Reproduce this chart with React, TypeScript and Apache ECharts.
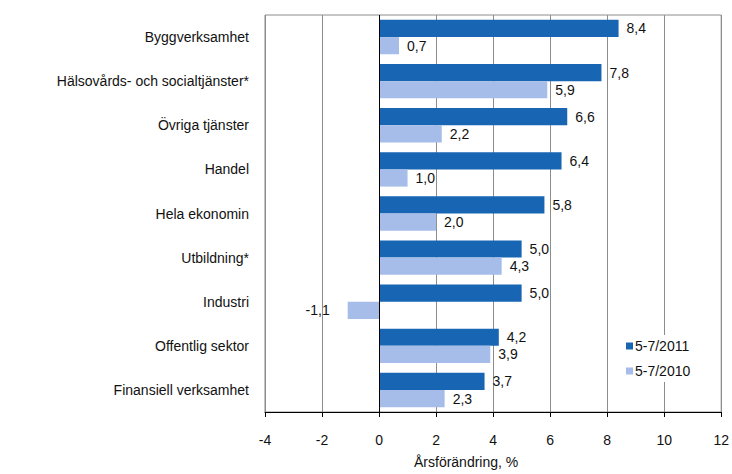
import React, { useEffect, useRef } from "react";
import * as echarts from "echarts";

const categories = [
  "Byggverksamhet",
  "Hälsovårds- och socialtjänster*",
  "Övriga tjänster",
  "Handel",
  "Hela ekonomin",
  "Utbildning*",
  "Industri",
  "Offentlig sektor",
  "Finansiell verksamhet",
];
const series2011 = [8.4, 7.8, 6.6, 6.4, 5.8, 5.0, 5.0, 4.2, 3.7];
const series2010 = [0.7, 5.9, 2.2, 1.0, 2.0, 4.3, -1.1, 3.9, 2.3];
const seriesNames = ["5-7/2011", "5-7/2010"];
const xTicks = { min: -4, max: 12, interval: 2 };
const axisTitle = "Årsförändring, %";

const FONT = "'Liberation Sans', Arial, sans-serif";

const fmt = (v: number) => v.toFixed(1).replace(".", ",");

const toData = (arr: number[]) =>
  arr.map((v) => ({
    value: v,
    label: v < 0 ? { position: "left", distance: 18 } : { position: "right" },
  }));

export default function App() {
  const ref = useRef<HTMLDivElement>(null);
  useEffect(() => {
    if (!ref.current) return;
    const chart = echarts.init(ref.current, null, { renderer: "svg" });
    const labelCommon = {
      show: true,
      distance: 8,
      color: "#111",
      fontSize: 14,
      fontFamily: FONT,
      formatter: (p: any) => fmt(p.value),
    };
    chart.setOption({
      animation: false,
      textStyle: { fontFamily: FONT },
      grid: {
        left: 265,
        right: 9,
        top: 15,
        bottom: 62,
        show: true,
        borderColor: "#8c8c8c",
        borderWidth: 1,
      },
      legend: {
        orient: "vertical",
        left: 622,
        top: 335,
        itemWidth: 7,
        itemHeight: 7,
        itemGap: 11,
        backgroundColor: "#fff",
        padding: [4, 4, 4, 4],
        icon: "rect",
        textStyle: { fontSize: 14, color: "#111", fontFamily: FONT, padding: [0, 0, 0, -3] },
        data: seriesNames,
      },
      xAxis: {
        type: "value",
        min: xTicks.min,
        max: xTicks.max,
        interval: xTicks.interval,
        axisLine: { show: true, onZero: false, lineStyle: { color: "#000", width: 1 } },
        axisTick: { show: true, length: 5, lineStyle: { color: "#000" } },
        axisLabel: {
          color: "#111",
          fontSize: 14,
          margin: 21,
          fontFamily: FONT,
        },
        splitLine: { show: true, lineStyle: { color: "#8c8c8c", width: 1 } },
      },
      yAxis: {
        type: "category",
        inverse: true,
        data: categories,
        axisLine: { show: false },
        axisTick: { show: false },
        axisLabel: {
          color: "#111",
          fontSize: 14,
          margin: 16,
          fontFamily: FONT,
          padding: [5, 0, 0, 0],
        },
      },
      graphic: [
        {
          type: "text",
          left: 414,
          top: 455,
          style: {
            text: axisTitle,
            fontSize: 14,
            fontFamily: FONT,
            fill: "#111",
          },
        },
      ],
      series: [
        {
          name: seriesNames[0],
          type: "bar",
          data: toData(series2011),
          itemStyle: { color: "#1866B3" },
          barGap: "0%",
          barCategoryGap: "22%",
          label: labelCommon,
          markLine: {
            silent: true,
            symbol: "none",
            label: { show: false },
            lineStyle: { color: "#000", type: "solid", width: 1 },
            data: [{ xAxis: 0 }],
          },
        },
        {
          name: seriesNames[1],
          type: "bar",
          data: toData(series2010),
          itemStyle: { color: "#A6BDEA" },
          barGap: "0%",
          barCategoryGap: "22%",
          label: labelCommon,
        },
      ],
    });
    return () => chart.dispose();
  }, []);
  return (
    <div
      ref={ref}
      style={{ width: 732, height: 474, position: "absolute", left: 0, top: 0 }}
    />
  );
}
